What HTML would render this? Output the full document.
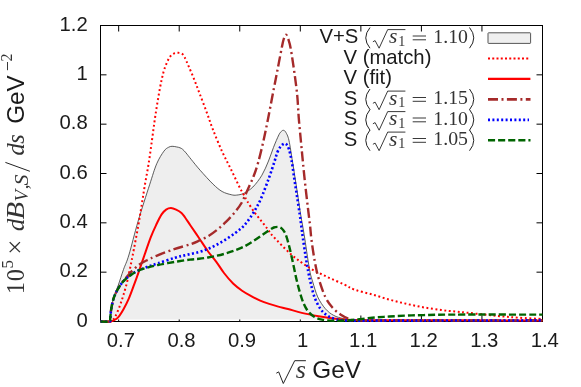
<!DOCTYPE html>
<html><head><meta charset="utf-8"><style>
html,body{margin:0;padding:0;background:#fff;}
svg{display:block;will-change:transform}
text{font-family:"Liberation Sans",sans-serif;font-size:20.3px;fill:#1a1a1a}
.m{font-family:"Liberation Serif",serif;font-size:19.8px;fill:#333}
.mi{font-family:"Liberation Serif",serif;font-style:italic}
.ax{font-size:24.3px}
.M{font-family:"Liberation Serif",serif;font-size:24.5px;fill:#333}
</style></head><body>
<svg width="581" height="387" viewBox="0 0 581 387">
<rect width="581" height="387" fill="#fff"/>
<defs><clipPath id="fc"><rect x="100" y="20" width="445" height="299.6"/></clipPath></defs>
<g stroke="#000" stroke-width="1.0" fill="none"><rect x="100.5" y="25.5" width="442.0" height="296.0"/><path d="M118.66,321.50 v-6 M118.66,25.50 v6"/><path d="M179.21,321.50 v-6 M179.21,25.50 v6"/><path d="M239.76,321.50 v-6 M239.76,25.50 v6"/><path d="M300.31,321.50 v-6 M300.31,25.50 v6"/><path d="M360.86,321.50 v-6 M360.86,25.50 v6"/><path d="M421.40,321.50 v-6 M421.40,25.50 v6"/><path d="M481.95,321.50 v-6 M481.95,25.50 v6"/><path d="M542.50,321.50 v-6 M542.50,25.50 v6"/><path d="M100.50,321.50 h6 M542.50,321.50 h-6"/><path d="M100.50,272.17 h6 M542.50,272.17 h-6"/><path d="M100.50,222.83 h6 M542.50,222.83 h-6"/><path d="M100.50,173.50 h6 M542.50,173.50 h-6"/><path d="M100.50,124.17 h6 M542.50,124.17 h-6"/><path d="M100.50,74.83 h6 M542.50,74.83 h-6"/><path d="M100.50,25.50 h6 M542.50,25.50 h-6"/></g>
<path d="M100.50,321.50 C102.02,321.50 107.98,322.00 109.60,321.50 C111.22,321.00 109.93,320.58 110.20,318.50 C110.47,316.42 110.63,312.50 111.20,309.00 C111.77,305.50 112.45,301.38 113.60,297.50 C114.75,293.62 116.45,290.37 118.10,285.70 C119.75,281.03 121.70,274.62 123.50,269.50 C125.30,264.38 126.47,263.05 128.90,255.00 C131.33,246.95 134.65,232.90 138.10,221.20 C141.55,209.50 146.50,194.37 149.60,184.80 C152.70,175.23 154.32,169.40 156.70,163.80 C159.08,158.20 161.93,153.95 163.90,151.20 C165.87,148.45 167.13,148.12 168.50,147.30 C169.87,146.48 170.77,146.37 172.10,146.30 C173.43,146.23 175.18,146.65 176.50,146.90 C177.82,147.15 178.98,147.40 180.00,147.80 C181.02,148.20 181.60,148.45 182.60,149.30 C183.60,150.15 184.58,151.23 186.00,152.90 C187.42,154.57 188.75,156.42 191.10,159.30 C193.45,162.18 196.43,166.05 200.10,170.20 C203.77,174.35 209.43,180.65 213.10,184.20 C216.77,187.75 219.08,189.75 222.10,191.50 C225.12,193.25 228.78,194.10 231.20,194.70 C233.62,195.30 234.50,195.33 236.60,195.10 C238.70,194.87 241.08,194.65 243.80,193.30 C246.52,191.95 249.88,190.02 252.90,187.00 C255.92,183.98 259.30,179.53 261.90,175.20 C264.50,170.87 266.57,165.63 268.50,161.00 C270.43,156.37 271.77,151.77 273.50,147.40 C275.23,143.03 277.57,137.48 278.90,134.80 C280.23,132.12 280.73,132.05 281.50,131.30 C282.27,130.55 282.78,130.13 283.50,130.30 C284.22,130.47 284.90,130.65 285.80,132.30 C286.70,133.95 287.80,135.42 288.90,140.20 C290.00,144.98 291.37,154.68 292.40,161.00 C293.43,167.32 294.18,172.23 295.10,178.10 C296.02,183.97 296.98,190.18 297.90,196.20 C298.82,202.22 299.83,209.40 300.60,214.20 C301.37,219.00 301.82,221.02 302.50,225.00 C303.18,228.98 303.88,232.90 304.70,238.10 C305.52,243.30 306.50,250.48 307.40,256.20 C308.30,261.92 309.22,268.13 310.10,272.40 C310.98,276.67 311.43,277.72 312.70,281.80 C313.97,285.88 315.60,292.42 317.70,296.90 C319.80,301.38 322.63,305.62 325.30,308.70 C327.97,311.78 330.62,313.73 333.70,315.40 C336.78,317.07 340.08,317.88 343.80,318.70 C347.52,319.52 346.63,319.98 356.00,320.30 C365.37,320.62 368.92,320.55 400.00,320.60 C431.08,320.65 518.75,320.60 542.50,320.60 Z" fill="#eeeeee" stroke="none" clip-path="url(#fc)"/>
<path d="M100.50,321.50 C102.02,321.50 107.98,322.00 109.60,321.50 C111.22,321.00 109.93,320.58 110.20,318.50 C110.47,316.42 110.63,312.50 111.20,309.00 C111.77,305.50 112.45,301.38 113.60,297.50 C114.75,293.62 116.45,290.37 118.10,285.70 C119.75,281.03 121.70,274.62 123.50,269.50 C125.30,264.38 126.47,263.05 128.90,255.00 C131.33,246.95 134.65,232.90 138.10,221.20 C141.55,209.50 146.50,194.37 149.60,184.80 C152.70,175.23 154.32,169.40 156.70,163.80 C159.08,158.20 161.93,153.95 163.90,151.20 C165.87,148.45 167.13,148.12 168.50,147.30 C169.87,146.48 170.77,146.37 172.10,146.30 C173.43,146.23 175.18,146.65 176.50,146.90 C177.82,147.15 178.98,147.40 180.00,147.80 C181.02,148.20 181.60,148.45 182.60,149.30 C183.60,150.15 184.58,151.23 186.00,152.90 C187.42,154.57 188.75,156.42 191.10,159.30 C193.45,162.18 196.43,166.05 200.10,170.20 C203.77,174.35 209.43,180.65 213.10,184.20 C216.77,187.75 219.08,189.75 222.10,191.50 C225.12,193.25 228.78,194.10 231.20,194.70 C233.62,195.30 234.50,195.33 236.60,195.10 C238.70,194.87 241.08,194.65 243.80,193.30 C246.52,191.95 249.88,190.02 252.90,187.00 C255.92,183.98 259.30,179.53 261.90,175.20 C264.50,170.87 266.57,165.63 268.50,161.00 C270.43,156.37 271.77,151.77 273.50,147.40 C275.23,143.03 277.57,137.48 278.90,134.80 C280.23,132.12 280.73,132.05 281.50,131.30 C282.27,130.55 282.78,130.13 283.50,130.30 C284.22,130.47 284.90,130.65 285.80,132.30 C286.70,133.95 287.80,135.42 288.90,140.20 C290.00,144.98 291.37,154.68 292.40,161.00 C293.43,167.32 294.18,172.23 295.10,178.10 C296.02,183.97 296.98,190.18 297.90,196.20 C298.82,202.22 299.83,209.40 300.60,214.20 C301.37,219.00 301.82,221.02 302.50,225.00 C303.18,228.98 303.88,232.90 304.70,238.10 C305.52,243.30 306.50,250.48 307.40,256.20 C308.30,261.92 309.22,268.13 310.10,272.40 C310.98,276.67 311.43,277.72 312.70,281.80 C313.97,285.88 315.60,292.42 317.70,296.90 C319.80,301.38 322.63,305.62 325.30,308.70 C327.97,311.78 330.62,313.73 333.70,315.40 C336.78,317.07 340.08,317.88 343.80,318.70 C347.52,319.52 346.63,319.98 356.00,320.30 C365.37,320.62 368.92,320.55 400.00,320.60 C431.08,320.65 518.75,320.60 542.50,320.60" fill="none" stroke="#333" stroke-width="0.8"/>
<path d="M100.50,321.50 C102.22,321.50 108.72,321.78 110.80,321.50 C112.88,321.22 112.23,320.63 113.00,319.80 C113.77,318.97 114.25,318.87 115.40,316.50 C116.55,314.13 118.55,309.22 119.90,305.60 C121.25,301.98 122.30,298.72 123.50,294.80 C124.70,290.88 126.05,286.32 127.10,282.10 C128.15,277.88 128.88,273.88 129.80,269.50 C130.72,265.12 131.22,262.95 132.60,255.80 C133.98,248.65 136.58,235.08 138.10,226.60 C139.62,218.12 140.60,211.67 141.70,204.90 C142.80,198.13 143.55,192.85 144.70,186.00 C145.85,179.15 147.35,171.72 148.60,163.80 C149.85,155.88 151.03,146.80 152.20,138.50 C153.37,130.20 154.32,122.35 155.60,114.00 C156.88,105.65 158.58,95.38 159.90,88.40 C161.22,81.42 162.30,76.47 163.50,72.10 C164.70,67.73 165.90,64.92 167.10,62.20 C168.30,59.48 169.47,57.28 170.70,55.80 C171.93,54.32 173.28,53.80 174.50,53.30 C175.72,52.80 176.78,52.75 178.00,52.80 C179.22,52.85 180.70,52.87 181.80,53.60 C182.90,54.33 183.43,55.02 184.60,57.20 C185.77,59.38 187.20,63.00 188.80,66.70 C190.40,70.40 192.38,74.88 194.20,79.40 C196.02,83.92 197.58,88.23 199.70,93.80 C201.82,99.37 204.67,106.77 206.90,112.80 C209.13,118.83 210.57,123.55 213.10,130.00 C215.63,136.45 219.08,144.87 222.10,151.50 C225.12,158.13 228.18,163.63 231.20,169.80 C234.22,175.97 237.95,184.08 240.20,188.50 C242.45,192.92 243.50,194.13 244.70,196.30 C245.90,198.47 245.77,198.82 247.40,201.50 C249.03,204.18 252.12,209.07 254.50,212.40 C256.88,215.73 259.45,218.63 261.70,221.50 C263.95,224.37 266.10,227.13 268.00,229.60 C269.90,232.07 269.23,232.17 273.10,236.30 C276.97,240.43 285.18,249.17 291.20,254.40 C297.22,259.63 303.23,263.97 309.20,267.70 C315.17,271.43 321.23,274.03 327.00,276.80 C332.77,279.57 339.13,282.13 343.80,284.30 C348.47,286.47 350.27,288.10 355.00,289.80 C359.73,291.50 366.47,292.87 372.20,294.50 C377.93,296.13 383.67,298.03 389.40,299.60 C395.13,301.17 400.87,302.60 406.60,303.90 C412.33,305.20 418.07,306.38 423.80,307.40 C429.53,308.42 435.80,309.32 441.00,310.00 C446.20,310.68 450.63,311.05 455.00,311.50 C459.37,311.95 462.30,312.18 467.20,312.70 C472.10,313.22 478.67,314.00 484.40,314.60 C490.13,315.20 495.87,315.78 501.60,316.30 C507.33,316.82 511.98,317.25 518.80,317.70 C525.62,318.15 538.55,318.78 542.50,319.00" fill="none" stroke="#ff0000" stroke-width="2.0" stroke-dasharray="1.9 2.6"/>
<path d="M100.50,321.50 C102.22,321.50 108.62,321.70 110.80,321.50 C112.98,321.30 112.38,320.98 113.60,320.30 C114.82,319.62 116.45,319.25 118.10,317.40 C119.75,315.55 121.70,312.37 123.50,309.20 C125.30,306.03 127.08,302.62 128.90,298.40 C130.72,294.18 132.73,288.42 134.40,283.90 C136.07,279.38 137.37,275.68 138.90,271.30 C140.43,266.92 141.63,263.25 143.60,257.60 C145.57,251.95 148.60,242.87 150.70,237.40 C152.80,231.93 154.38,228.63 156.20,224.80 C158.02,220.97 159.95,216.93 161.60,214.40 C163.25,211.87 164.53,210.65 166.10,209.60 C167.67,208.55 169.33,208.08 171.00,208.10 C172.67,208.12 174.35,208.88 176.10,209.70 C177.85,210.52 180.00,211.70 181.50,213.00 C183.00,214.30 183.63,215.47 185.10,217.50 C186.57,219.53 187.98,221.78 190.30,225.20 C192.62,228.62 196.03,233.62 199.00,238.00 C201.97,242.38 205.22,247.53 208.10,251.50 C210.98,255.47 213.65,258.22 216.30,261.80 C218.95,265.38 221.20,269.38 224.00,273.00 C226.80,276.62 230.08,280.55 233.10,283.50 C236.12,286.45 239.08,288.60 242.10,290.70 C245.12,292.80 248.18,294.45 251.20,296.10 C254.22,297.75 257.20,299.30 260.20,300.60 C263.20,301.90 266.18,302.90 269.20,303.90 C272.22,304.90 275.17,305.75 278.30,306.60 C281.43,307.45 284.08,307.95 288.00,309.00 C291.92,310.05 296.70,311.70 301.80,312.90 C306.90,314.10 313.00,315.23 318.60,316.20 C324.20,317.17 329.80,318.08 335.40,318.70 C341.00,319.32 344.77,319.63 352.20,319.90 C359.63,320.17 348.28,320.22 380.00,320.30 C411.72,320.38 515.42,320.38 542.50,320.40" fill="none" stroke="#ff0000" stroke-width="2.0"/>
<path d="M100.50,321.50 C102.02,321.50 107.98,322.00 109.60,321.50 C111.22,321.00 109.93,320.55 110.20,318.50 C110.47,316.45 110.63,312.55 111.20,309.20 C111.77,305.85 112.60,301.55 113.60,298.40 C114.60,295.25 115.93,292.78 117.20,290.30 C118.47,287.82 119.85,285.47 121.20,283.50 C122.55,281.53 123.42,280.68 125.30,278.50 C127.18,276.32 130.08,272.77 132.50,270.40 C134.92,268.03 137.38,266.00 139.80,264.30 C142.22,262.60 144.22,261.62 147.00,260.20 C149.78,258.78 151.97,257.63 156.50,255.80 C161.03,253.97 168.53,251.13 174.20,249.20 C179.87,247.27 186.37,245.62 190.50,244.20 C194.63,242.78 196.07,242.03 199.00,240.70 C201.93,239.37 205.08,238.02 208.10,236.20 C211.12,234.38 214.08,232.22 217.10,229.80 C220.12,227.38 223.18,224.70 226.20,221.70 C229.22,218.70 232.65,214.92 235.20,211.80 C237.75,208.68 239.50,206.52 241.50,203.00 C243.50,199.48 245.18,195.15 247.20,190.70 C249.22,186.25 251.75,181.08 253.60,176.30 C255.45,171.52 256.63,168.02 258.30,162.00 C259.97,155.98 261.97,147.45 263.60,140.20 C265.23,132.95 266.60,126.03 268.10,118.50 C269.60,110.97 271.10,102.75 272.60,95.00 C274.10,87.25 275.60,79.75 277.10,72.00 C278.60,64.25 280.52,53.92 281.60,48.50 C282.68,43.08 282.87,41.80 283.60,39.50 C284.33,37.20 285.20,34.70 286.00,34.70 C286.80,34.70 287.62,37.20 288.40,39.50 C289.18,41.80 289.72,43.08 290.70,48.50 C291.68,53.92 293.22,64.25 294.30,72.00 C295.38,79.75 296.45,87.25 297.20,95.00 C297.95,102.75 298.17,110.67 298.80,118.50 C299.43,126.33 300.32,134.75 301.00,142.00 C301.68,149.25 302.22,155.08 302.90,162.00 C303.58,168.92 304.28,176.00 305.10,183.50 C305.92,191.00 306.98,200.08 307.80,207.00 C308.62,213.92 309.38,219.50 310.00,225.00 C310.62,230.50 310.68,233.83 311.50,240.00 C312.32,246.17 313.68,255.50 314.90,262.00 C316.12,268.50 317.07,273.18 318.80,279.00 C320.53,284.82 323.10,292.23 325.30,296.90 C327.50,301.57 329.48,304.07 332.00,307.00 C334.52,309.93 337.60,312.55 340.40,314.50 C343.20,316.45 346.20,317.73 348.80,318.70 C351.40,319.67 347.47,320.00 356.00,320.30 C364.53,320.60 368.92,320.50 400.00,320.50 C431.08,320.50 518.75,320.33 542.50,320.30" fill="none" stroke="#a52a2a" stroke-width="2.4" stroke-dasharray="10 3.5 2 3.4"/>
<path d="M100.50,321.50 C102.02,321.50 107.98,322.00 109.60,321.50 C111.22,321.00 109.93,320.55 110.20,318.50 C110.47,316.45 110.63,312.55 111.20,309.20 C111.77,305.85 112.60,301.55 113.60,298.40 C114.60,295.25 115.85,292.83 117.20,290.30 C118.55,287.77 120.05,285.28 121.70,283.20 C123.35,281.12 124.68,279.75 127.10,277.80 C129.52,275.85 132.88,273.30 136.20,271.50 C139.52,269.70 143.38,268.37 147.00,267.00 C150.62,265.63 153.23,264.85 157.90,263.30 C162.57,261.75 170.17,259.12 175.00,257.70 C179.83,256.28 182.90,255.75 186.90,254.80 C190.90,253.85 195.47,253.00 199.00,252.00 C202.53,251.00 205.08,250.05 208.10,248.80 C211.12,247.55 214.08,246.10 217.10,244.50 C220.12,242.90 223.18,241.12 226.20,239.20 C229.22,237.28 232.60,234.90 235.20,233.00 C237.80,231.10 239.80,229.67 241.80,227.80 C243.80,225.93 245.17,224.47 247.20,221.80 C249.23,219.13 251.70,215.68 254.00,211.80 C256.30,207.92 258.52,204.12 261.00,198.50 C263.48,192.88 266.65,184.27 268.90,178.10 C271.15,171.93 273.10,165.77 274.50,161.50 C275.90,157.23 276.27,155.00 277.30,152.50 C278.33,150.00 279.52,148.00 280.70,146.50 C281.88,145.00 283.35,143.75 284.40,143.50 C285.45,143.25 286.25,144.05 287.00,145.00 C287.75,145.95 288.15,146.70 288.90,149.20 C289.65,151.70 290.62,155.18 291.50,160.00 C292.38,164.82 293.28,172.07 294.20,178.10 C295.12,184.13 296.08,190.18 297.00,196.20 C297.92,202.22 298.98,209.23 299.70,214.20 C300.42,219.17 300.77,222.02 301.30,226.00 C301.83,229.98 302.18,233.07 302.90,238.10 C303.62,243.13 304.70,250.55 305.60,256.20 C306.50,261.85 307.43,267.45 308.30,272.00 C309.17,276.55 309.78,279.35 310.80,283.50 C311.82,287.65 312.82,292.70 314.40,296.90 C315.98,301.10 318.20,305.62 320.30,308.70 C322.40,311.78 324.48,313.67 327.00,315.40 C329.52,317.13 331.90,318.25 335.40,319.10 C338.90,319.95 337.23,320.25 348.00,320.50 C358.77,320.75 367.58,320.62 400.00,320.60 C432.42,320.58 518.75,320.43 542.50,320.40" fill="none" stroke="#0000ff" stroke-width="2.6" stroke-dasharray="2 2.4"/>
<path d="M100.50,321.50 C102.02,321.50 107.98,322.00 109.60,321.50 C111.22,321.00 109.93,320.55 110.20,318.50 C110.47,316.45 110.63,312.55 111.20,309.20 C111.77,305.85 112.60,301.55 113.60,298.40 C114.60,295.25 115.85,292.83 117.20,290.30 C118.55,287.77 120.05,285.28 121.70,283.20 C123.35,281.12 124.68,279.73 127.10,277.80 C129.52,275.87 132.88,273.28 136.20,271.60 C139.52,269.92 143.38,268.80 147.00,267.70 C150.62,266.60 153.23,265.97 157.90,265.00 C162.57,264.03 169.65,262.80 175.00,261.90 C180.35,261.00 186.00,260.12 190.00,259.60 C194.00,259.08 195.98,259.15 199.00,258.80 C202.02,258.45 205.08,258.02 208.10,257.50 C211.12,256.98 214.08,256.40 217.10,255.70 C220.12,255.00 223.18,254.20 226.20,253.30 C229.22,252.40 232.20,251.43 235.20,250.30 C238.20,249.17 241.07,248.12 244.20,246.50 C247.33,244.88 250.70,242.72 254.00,240.60 C257.30,238.48 261.33,235.62 264.00,233.80 C266.67,231.98 268.37,230.75 270.00,229.70 C271.63,228.65 272.53,227.97 273.80,227.50 C275.07,227.03 276.48,226.88 277.60,226.90 C278.72,226.92 279.67,227.18 280.50,227.60 C281.33,228.02 281.73,228.25 282.60,229.40 C283.47,230.55 284.57,231.55 285.70,234.50 C286.83,237.45 288.15,242.18 289.40,247.10 C290.65,252.02 291.93,258.27 293.20,264.00 C294.47,269.73 295.57,275.73 297.00,281.50 C298.43,287.27 300.17,293.93 301.80,298.60 C303.43,303.27 304.85,306.57 306.80,309.50 C308.75,312.43 310.98,314.52 313.50,316.20 C316.02,317.88 318.25,318.85 321.90,319.60 C325.55,320.35 330.35,320.63 335.40,320.70 C340.45,320.77 346.07,320.50 352.20,320.00 C358.33,319.50 366.00,318.28 372.20,317.70 C378.40,317.12 383.67,316.85 389.40,316.50 C395.13,316.15 400.87,315.83 406.60,315.60 C412.33,315.37 415.73,315.27 423.80,315.10 C431.87,314.93 435.22,314.68 455.00,314.60 C474.78,314.52 527.92,314.60 542.50,314.60" fill="none" stroke="#006400" stroke-width="2.4" stroke-dasharray="7.1 3"/>
<text x="120.96" y="347" text-anchor="middle">0.7</text><text x="181.51" y="347" text-anchor="middle">0.8</text><text x="242.06" y="347" text-anchor="middle">0.9</text><text x="302.61" y="347" text-anchor="middle">1</text><text x="363.16" y="347" text-anchor="middle">1.1</text><text x="423.70" y="347" text-anchor="middle">1.2</text><text x="484.25" y="347" text-anchor="middle">1.3</text><text x="544.80" y="347" text-anchor="middle">1.4</text><text x="87.8" y="326.50" text-anchor="end">0</text><text x="87.8" y="277.17" text-anchor="end">0.2</text><text x="87.8" y="227.83" text-anchor="end">0.4</text><text x="87.8" y="178.50" text-anchor="end">0.6</text><text x="87.8" y="129.17" text-anchor="end">0.8</text><text x="87.8" y="79.83" text-anchor="end">1</text><text x="87.8" y="30.50" text-anchor="end">1.2</text><rect x="488" y="32.8" width="42.6" height="10.6" rx="0.6" fill="#efefef" stroke="#555" stroke-width="1"/><path d="M488,58.5 H530" stroke="#ff0000" stroke-width="2.2" stroke-dasharray="2 2.25"/><path d="M488,78.8 H530.4" stroke="#ff0000" stroke-width="2.2"/><path d="M488,99.4 H530.5" stroke="#a52a2a" stroke-width="2.6" stroke-dasharray="10 3.5 2 3.4"/><path d="M488,119.9 H529" stroke="#0000ff" stroke-width="2.8" stroke-dasharray="2 2.4"/><path d="M488,140.3 H530.5" stroke="#006400" stroke-width="2.6" stroke-dasharray="7.1 3"/><text x="319.5" y="43.0">V+S</text><text x="343.5" y="63.5">V (match)</text><text x="343.5" y="84.0">V (fit)</text><text x="343.8" y="104.5">S</text><text x="343.8" y="125.0">S</text><text x="343.8" y="145.5">S</text><path d="M370,27.50 Q361.5,37.90 370,48.20" fill="none" stroke="#222" stroke-width="1.0"/><path d="M469.5,27.50 Q478,37.90 469.5,48.20" fill="none" stroke="#222" stroke-width="1.0"/><path d="M372.9,41.80 l2.2,-1.2 l4.0,7.6 l8.6,-18.6 H405.4" fill="none" stroke="#222" stroke-width="0.9"/><text x="389" y="43.0" class="m mi" style="font-size:21.5px">s</text><text x="398.3" y="45.8" class="m" style="font-size:14px">1</text><path d="M412.7,36.00 H426 M412.7,39.80 H426" fill="none" stroke="#222" stroke-width="0.9"/><text x="433.3" y="42.8" class="m">1.10</text><path d="M370,89.00 Q361.5,99.40 370,109.70" fill="none" stroke="#222" stroke-width="1.0"/><path d="M469.5,89.00 Q478,99.40 469.5,109.70" fill="none" stroke="#222" stroke-width="1.0"/><path d="M372.9,103.30 l2.2,-1.2 l4.0,7.6 l8.6,-18.6 H405.4" fill="none" stroke="#222" stroke-width="0.9"/><text x="389" y="104.5" class="m mi" style="font-size:21.5px">s</text><text x="398.3" y="107.3" class="m" style="font-size:14px">1</text><path d="M412.7,97.50 H426 M412.7,101.30 H426" fill="none" stroke="#222" stroke-width="0.9"/><text x="433.3" y="104.3" class="m">1.15</text><path d="M370,109.50 Q361.5,119.90 370,130.20" fill="none" stroke="#222" stroke-width="1.0"/><path d="M469.5,109.50 Q478,119.90 469.5,130.20" fill="none" stroke="#222" stroke-width="1.0"/><path d="M372.9,123.80 l2.2,-1.2 l4.0,7.6 l8.6,-18.6 H405.4" fill="none" stroke="#222" stroke-width="0.9"/><text x="389" y="125.0" class="m mi" style="font-size:21.5px">s</text><text x="398.3" y="127.8" class="m" style="font-size:14px">1</text><path d="M412.7,118.00 H426 M412.7,121.80 H426" fill="none" stroke="#222" stroke-width="0.9"/><text x="433.3" y="124.8" class="m">1.10</text><path d="M370,130.00 Q361.5,140.40 370,150.70" fill="none" stroke="#222" stroke-width="1.0"/><path d="M469.5,130.00 Q478,140.40 469.5,150.70" fill="none" stroke="#222" stroke-width="1.0"/><path d="M372.9,144.30 l2.2,-1.2 l4.0,7.6 l8.6,-18.6 H405.4" fill="none" stroke="#222" stroke-width="0.9"/><text x="389" y="145.5" class="m mi" style="font-size:21.5px">s</text><text x="398.3" y="148.3" class="m" style="font-size:14px">1</text><path d="M412.7,138.50 H426 M412.7,142.30 H426" fill="none" stroke="#222" stroke-width="0.9"/><text x="433.3" y="145.3" class="m">1.05</text><path d="M276.3,373.2 l2.4,-1.3 l4.6,11.6 l11.4,-22.8 H305.9" fill="none" stroke="#222" stroke-width="1.0"/><text x="295.8" y="377.7" class="M mi" style="font-size:26px">s</text><text x="312.3" y="378" class="ax">GeV</text><g transform="translate(24,0) rotate(-90)"><text x="-294.3" y="0" class="M">1</text><text x="-281.3" y="0" class="M">0</text><text x="-268.5" y="-11.2" class="M" style="font-size:17px">5</text><text x="-254.8" y="0" class="M" style="font-size:27px">×</text><text x="-231" y="0" class="M mi">d</text><text x="-219.6" y="0" class="M mi" textLength="17.6" lengthAdjust="spacingAndGlyphs">B</text><text x="-201.6" y="4" class="M mi" style="font-size:19px">V</text><text x="-189.3" y="4" class="M" style="font-size:19px">,</text><text x="-185.6" y="4" class="M mi" style="font-size:19px" textLength="11" lengthAdjust="spacingAndGlyphs">S</text><path d="M-171.3,5.9 L-162.4,-18.6" stroke="#222" stroke-width="1.0" fill="none"/><text x="-155.5" y="0" class="M mi">d</text><text x="-143.8" y="0" class="M mi">s</text><text x="-123.8" y="0.4" class="ax">GeV</text><path d="M-70.2,-16.5 H-62" stroke="#222" stroke-width="0.9" fill="none"/><text x="-61.5" y="-12.4" class="M" style="font-size:16px">2</text></g></svg></body></html>
